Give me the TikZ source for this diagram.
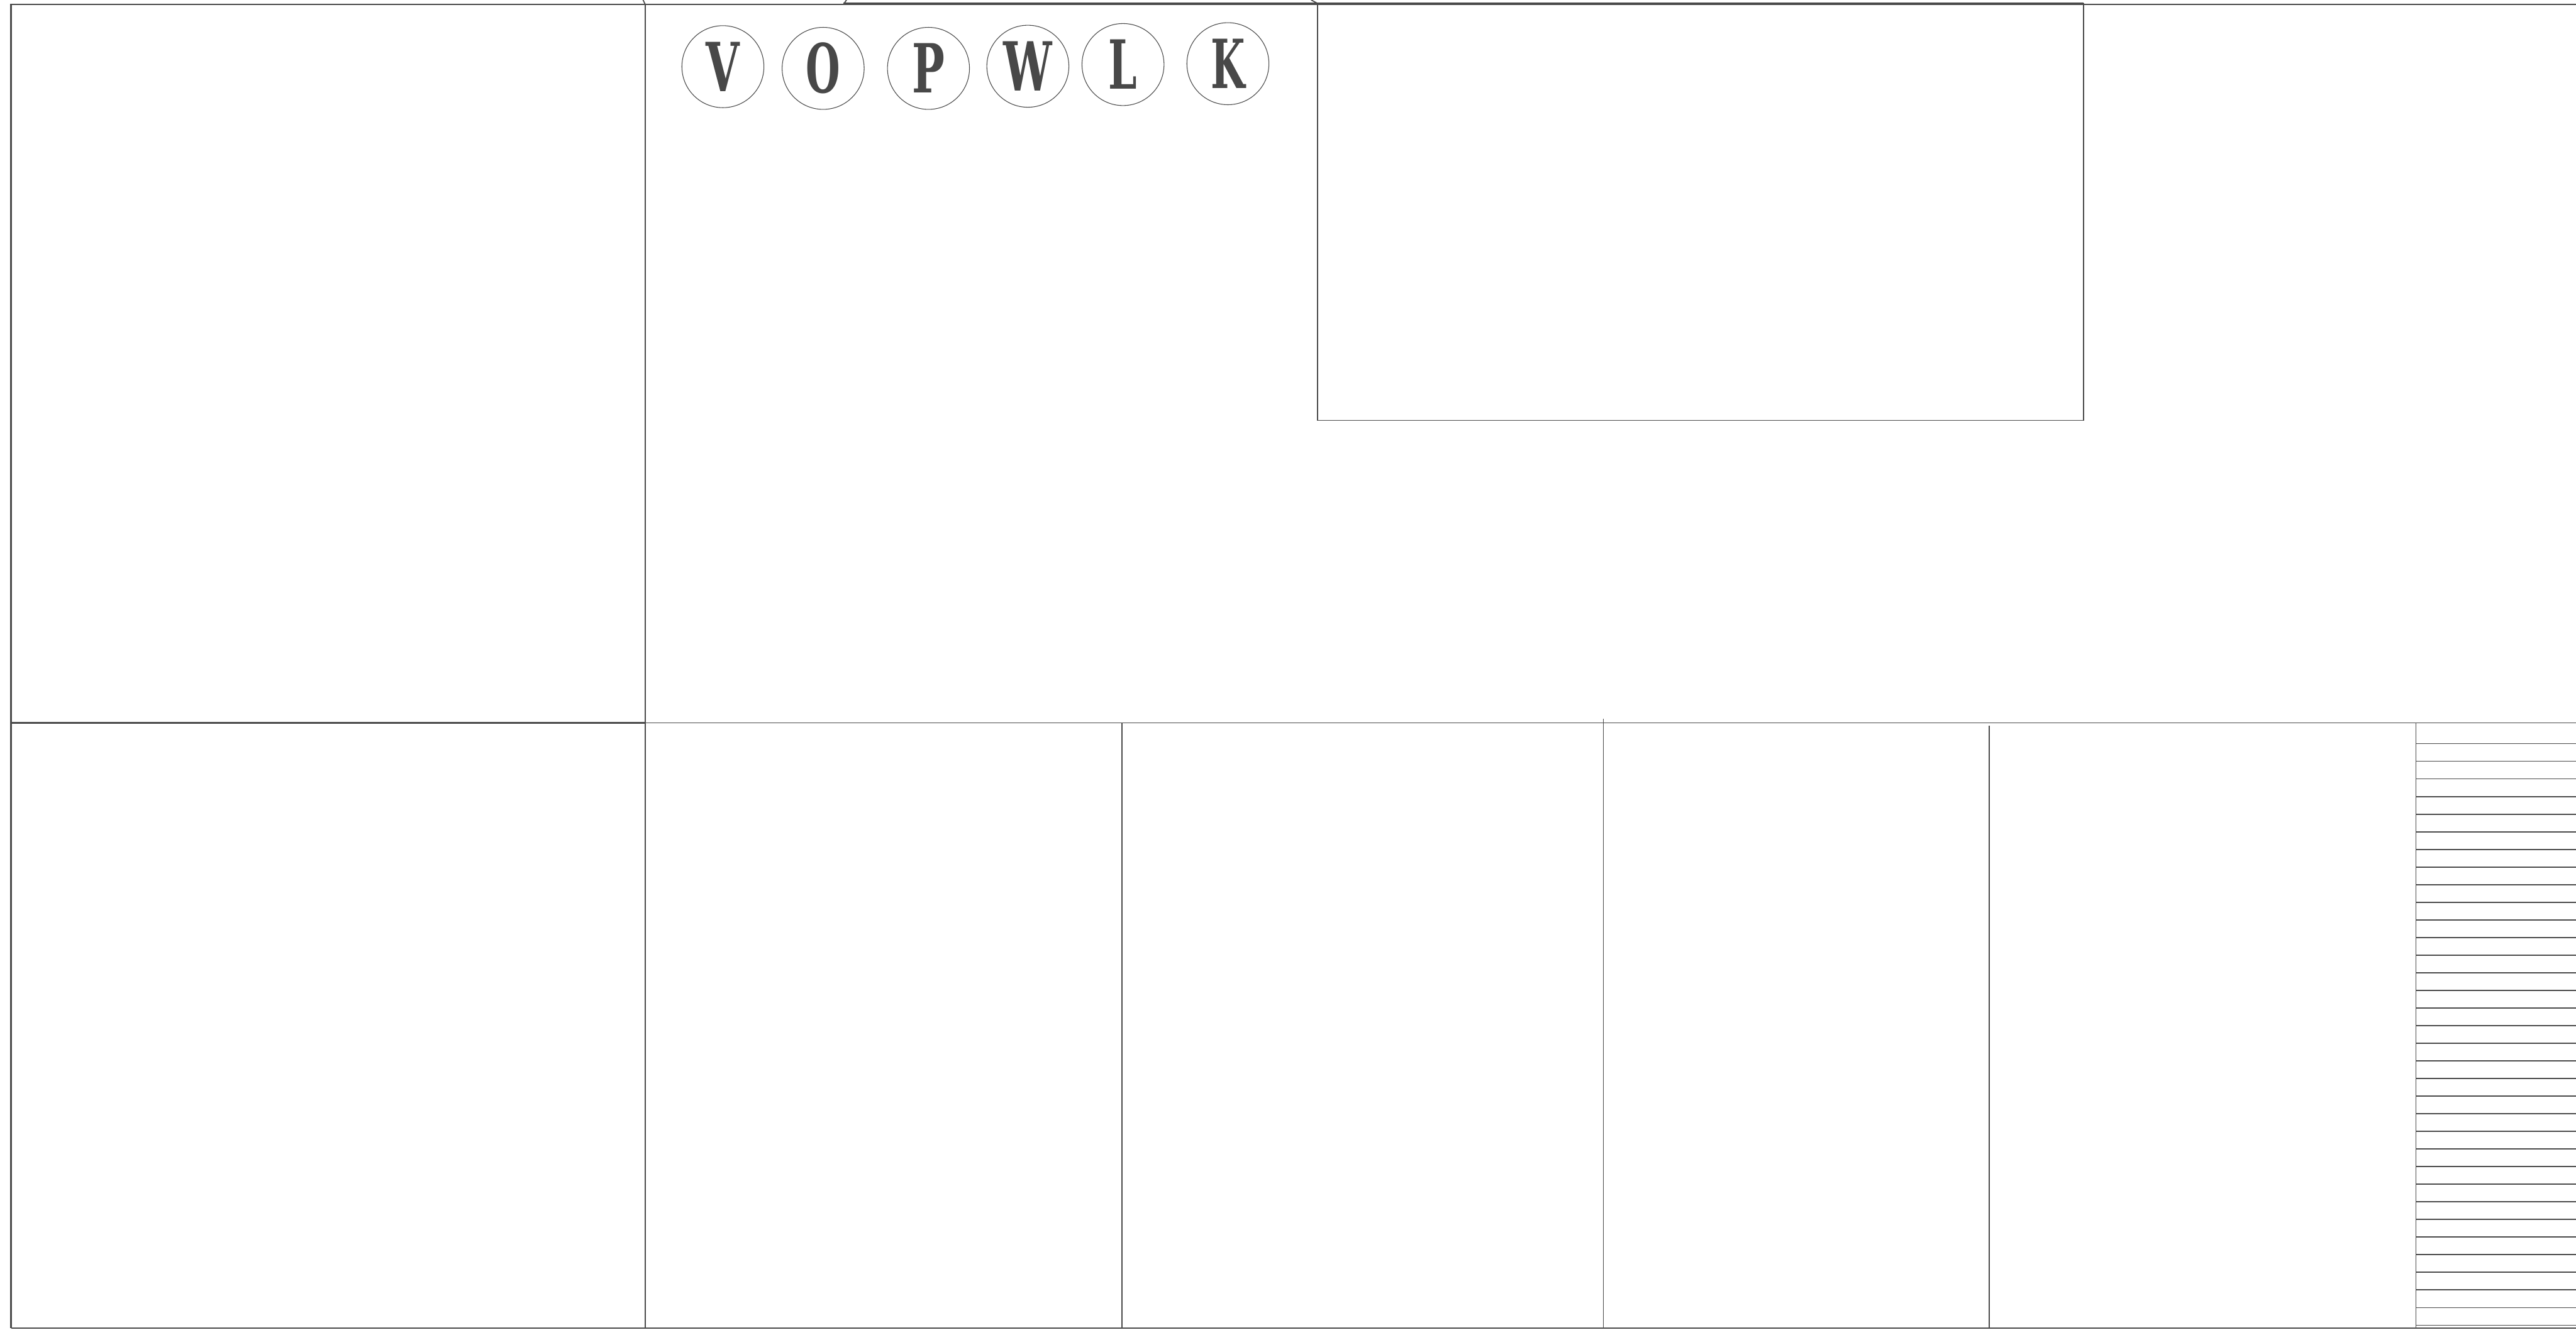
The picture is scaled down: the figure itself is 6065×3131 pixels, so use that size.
\documentclass[tikz,border=0pt]{standalone}
\usepackage{fontspec}
\usepackage{graphicx}
\newfontfamily\letterfont{DejaVu Serif}
\definecolor{linegray}{HTML}{4A4A4A}
\definecolor{lettergray}{HTML}{484848}
\begin{document}
\begin{tikzpicture}[x=0.01cm,y=-0.01cm]
\tikzset{
  frame/.style={draw=linegray, line width=0.75pt},
  heavy/.style={draw=linegray, line width=1pt},
  hatchline/.style={draw=linegray, line width=0.75pt},
  letter/.style={circle, draw=linegray, line width=0.45pt, minimum size=1.93cm,
    inner sep=0pt, text=lettergray,
    font=\letterfont\bfseries\fontsize{44}{44}\selectfont}
}
\useasboundingbox (0,0) rectangle (6065,3131);
% outer frame, left column
\draw[heavy] (26,3127) -- (26,10) -- (1519,10);
\draw[frame] (1519,10) -- (6065,10);
\draw[heavy] (26,1702) -- (1519,1702);
\draw[frame] (1519,1702) -- (6065,1702);
\draw[heavy] (26,3127) -- (6065,3127);
\draw[frame] (1519,10) -- (1519,3127);
% small ticks at the top edge
\draw[frame] (1514,0) -- (1519,10);
\draw[frame] (1993,0) -- (1986,10);
\draw[frame] (3087,0) -- (3102,8);
\draw[heavy] (1986,8) -- (4906,8);
% top rectangle
\draw[frame] (3102,8) rectangle (4906,990);
% bottom verticals
\draw[frame] (2642,1702) -- (2642,3127);
\draw[frame] (3775,1693) -- (3775,3127);
\draw[frame] (4684,1709) -- (4684,3127);
\draw[frame] (5688,1702) -- (5688,3127);
% hatch lines at the right
\foreach \k in {0,...,33} {
  \draw[hatchline] (5688,{1751+41.5*\k}) -- (6065,{1751+41.5*\k});
}
% lettered circles
\node[letter] (cV) at (1702,157) {\scalebox{0.66}[1.03]{V}};
\node[letter] (cO) at (1938,161) {\scalebox{0.6}[1.03]{O}};
\node[letter] (cP) at (2186,161) {\scalebox{0.66}[1.03]{P}};
\node[letter] (cW) at (2420,156) {\scalebox{0.66}[1.03]{W}};
\node[letter] (cL) at (2644,152) {\scalebox{0.62}[1.03]{L}};
\node[letter] (cK) at (2891,150) {\scalebox{0.6}[1.03]{K}};
\end{tikzpicture}
\end{document}
